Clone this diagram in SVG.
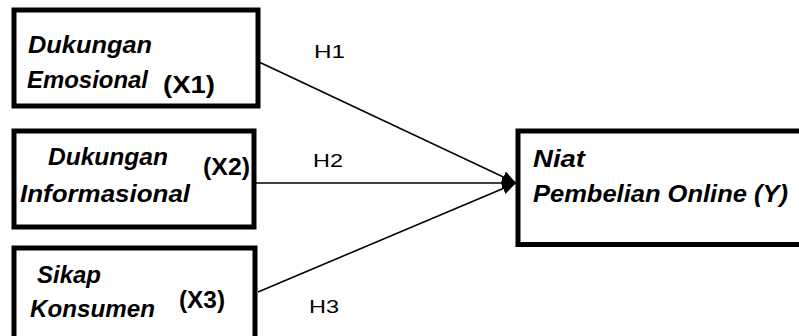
<svg xmlns="http://www.w3.org/2000/svg" width="799" height="336" viewBox="0 0 799 336">
  <style>
    .box { fill: #ffffff; stroke: #000000; stroke-width: 5; }
    .lbl { font-family: "Liberation Sans", Arial, sans-serif; font-size: 24px; font-weight: bold; font-style: italic; fill: #000; }
    .code { font-family: "Liberation Sans", Arial, sans-serif; font-size: 24px; font-weight: bold; fill: #000; }
    .hyp { font-family: "Liberation Sans", Arial, sans-serif; font-size: 19px; fill: #000; }
    .conn { stroke: #000; stroke-width: 1.6; fill: none; marker-end: url(#arrow); }
  </style>
  <defs>
    <marker id="arrow" markerUnits="userSpaceOnUse" markerWidth="14" markerHeight="14" viewBox="0 0 14 12" refX="14" refY="6" orient="auto">
      <path d="M0,0 L14,6 L0,12 z" fill="#000"/>
    </marker>
  </defs>
  <rect x="0" y="0" width="799" height="336" fill="#ffffff"/>

  <g id="connectors">
    <line class="conn" x1="259" y1="62" x2="516" y2="183"/>
    <line class="conn" x1="256" y1="183" x2="516" y2="183"/>
    <line class="conn" x1="258" y1="292" x2="516" y2="183"/>
    <text class="hyp" x="314" y="58" textLength="31" lengthAdjust="spacingAndGlyphs">H1</text>
    <text class="hyp" x="313" y="167" textLength="30" lengthAdjust="spacingAndGlyphs">H2</text>
    <text class="hyp" x="309" y="313" textLength="30" lengthAdjust="spacingAndGlyphs">H3</text>
  </g>

  <g id="x1">
    <rect class="box" x="14" y="10" width="244" height="96"/>
    <text class="lbl" x="28" y="53" textLength="124" lengthAdjust="spacingAndGlyphs">Dukungan</text>
    <text class="lbl" x="27" y="88" textLength="121" lengthAdjust="spacingAndGlyphs">Emosional</text>
    <text class="code" x="163" y="93" textLength="52" lengthAdjust="spacingAndGlyphs">(X1)</text>
  </g>

  <g id="x2">
    <rect class="box" x="14" y="131" width="240" height="96"/>
    <text class="lbl" x="48" y="165" textLength="120" lengthAdjust="spacingAndGlyphs">Dukungan</text>
    <text class="lbl" x="20" y="202" textLength="170" lengthAdjust="spacingAndGlyphs">Informasional</text>
    <text class="code" x="203" y="175" textLength="47" lengthAdjust="spacingAndGlyphs">(X2)</text>
  </g>

  <g id="x3">
    <rect class="box" x="14" y="248" width="241" height="100"/>
    <text class="lbl" x="37" y="283" textLength="64" lengthAdjust="spacingAndGlyphs">Sikap</text>
    <text class="lbl" x="30" y="317" textLength="125" lengthAdjust="spacingAndGlyphs">Konsumen</text>
    <text class="code" x="179" y="308" textLength="46" lengthAdjust="spacingAndGlyphs">(X3)</text>
  </g>

  <g id="y">
    <rect class="box" x="518" y="131" width="300" height="113.5"/>
    <text class="lbl" x="533" y="167" textLength="52" lengthAdjust="spacingAndGlyphs">Niat</text>
    <text class="lbl" x="533" y="202" textLength="255" lengthAdjust="spacingAndGlyphs">Pembelian Online (Y)</text>
  </g>
</svg>
